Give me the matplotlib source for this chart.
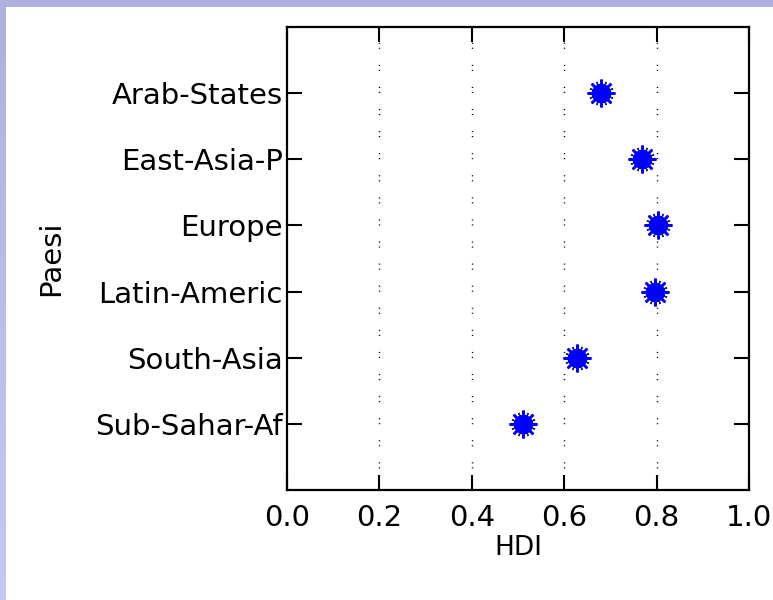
import numpy as np
import matplotlib
matplotlib.use('Agg')
import matplotlib.pyplot as plt
from matplotlib.patches import Rectangle
from matplotlib.colors import LinearSegmentedColormap

# ===== DATA =====
regions = ['Arab-States', 'East-Asia-P', 'Europe', 'Latin-Americ', 'South-Asia', 'Sub-Sahar-Af']
hdi = [0.679, 0.768, 0.802, 0.797, 0.627, 0.511]
x_ticks = [0.0, 0.2, 0.4, 0.6, 0.8, 1.0]
x_ticklabels = ['0.0', '0.2', '0.4', '0.6', '0.8', '1.0']
# =================

plt.rcParams['font.family'] = ['DejaVu Sans']

fig = plt.figure(figsize=(7.73, 6.0), dpi=100)
fig.patch.set_facecolor('white')

# lavender frame: top band and left band with a soft gradient
fig.patches.append(Rectangle((0, 1 - 7 / 600), 1, 7 / 600, transform=fig.transFigure,
                             facecolor='#b0b0e0', edgecolor='none', zorder=0))
frame_ax = fig.add_axes([0, 0, 6 / 773, 1 - 7 / 600])
grad = np.linspace(0, 1, 256).reshape(-1, 1)
cmap = LinearSegmentedColormap.from_list('frame', ['#b0b0e0', '#c8c8f8'])
frame_ax.imshow(grad, aspect='auto', cmap=cmap, extent=[0, 1, 0, 1], origin='upper')
frame_ax.axis('off')

ax = fig.add_axes([287 / 773, 110 / 600, 462 / 773, 463 / 600])

n = len(regions)
ypos = np.arange(n, 0, -1)

# dotted vertical grid lines (pairs of dots, MATLAB style)
for xv in x_ticks[1:-1]:
    ax.axvline(xv, color='black', linewidth=1.0, linestyle=(0, (0.8, 2.8, 0.8, 11.5)), zorder=1)

# burst-like markers
ax.plot(hdi, ypos, linestyle='none', marker=(8, 2, 22.5), markersize=18,
        markeredgecolor='#202070', markeredgewidth=1.0, zorder=2)
ax.plot(hdi, ypos, linestyle='none', marker='o', markersize=13,
        markerfacecolor='#0000ff', markeredgecolor='#0000ff', zorder=3)
ax.plot(hdi, ypos, linestyle='none', marker=(8, 2, 0), markersize=20,
        markeredgecolor='#0000ff', markeredgewidth=1.8, zorder=3)

ax.set_xlim(0, 1)
ax.set_ylim(0, n + 1)
ax.set_xticks(x_ticks)
ax.set_xticklabels(x_ticklabels)
ax.set_yticks(ypos)
ax.set_yticklabels(regions)

ax.tick_params(axis='both', direction='in', length=11, width=1.5, labelsize=21,
               top=True, right=True, color='black')
ax.tick_params(axis='x', pad=10)
ax.tick_params(axis='y', pad=3)

for s in ax.spines.values():
    s.set_linewidth(1.6)

ax.set_xlabel('HDI', fontsize=19, labelpad=2)
ax.set_ylabel('Paesi', fontsize=21, labelpad=22)

fig.savefig('out.png', dpi=100)
plt.close('all')
